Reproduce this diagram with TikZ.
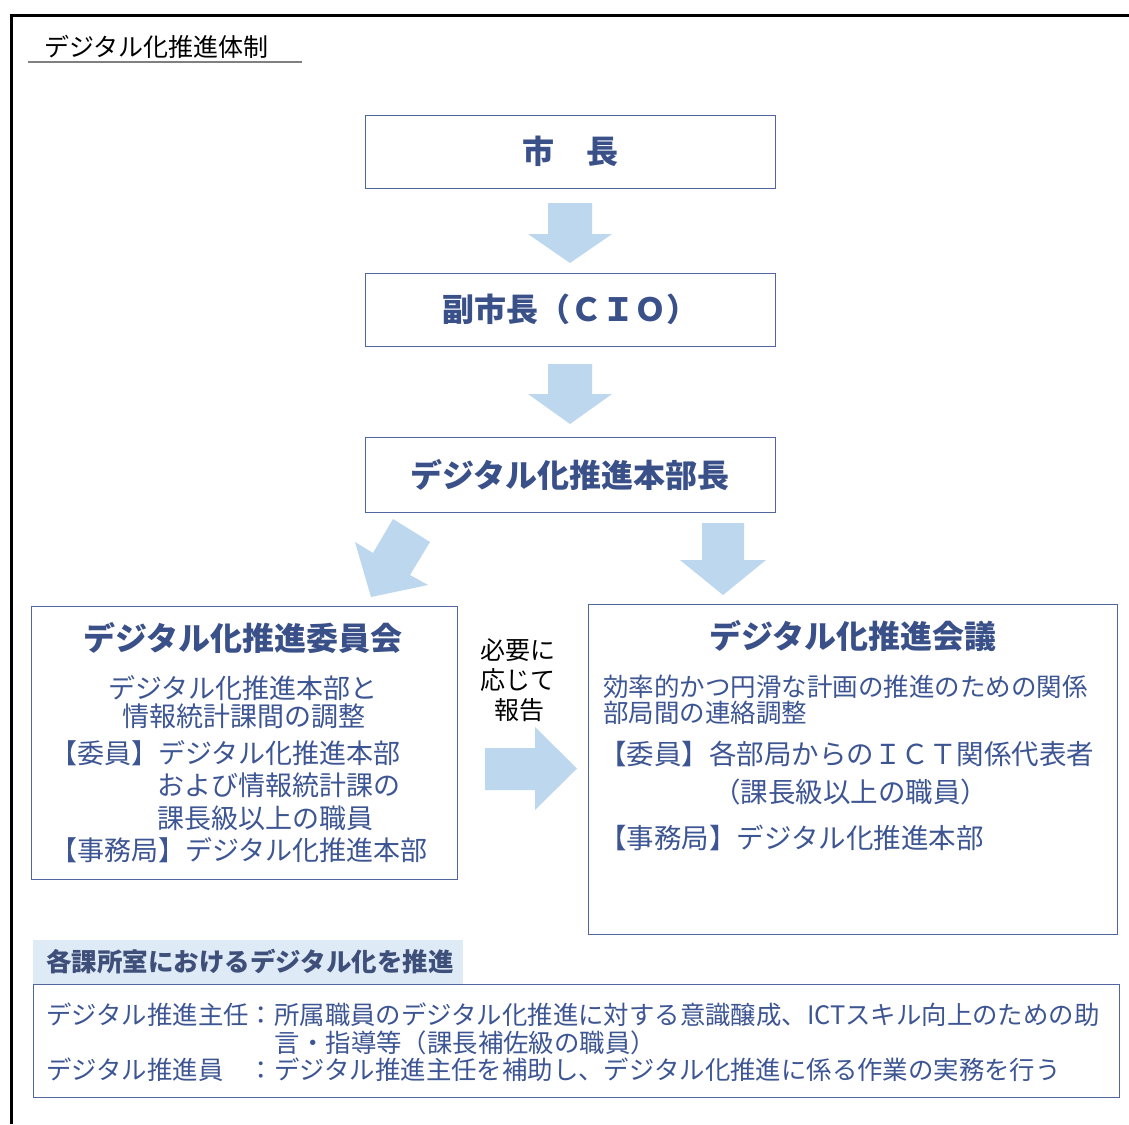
\documentclass[tikz,border=0pt]{standalone}
\usepackage{fontspec}
\setmainfont{Noto Sans CJK JP}
\definecolor{txt}{HTML}{3D5693}
\definecolor{ttl}{HTML}{3A5089}
\definecolor{brd}{HTML}{51659F}
\definecolor{arr}{HTML}{BDD7EE}
\definecolor{lbl}{HTML}{DEEAF6}
\definecolor{lbltxt}{HTML}{3E4F7A}
\newcommand\setfs[1]{\fontsize{#1}{#1}\selectfont}
\tikzset{
  box/.style={draw=brd, line width=1pt, inner sep=0pt, fill=white},
  t/.style={inner sep=0pt, text=txt},
  btitle/.style={inner sep=0pt, text=ttl, font=\setfs{32pt}\bfseries},
  blockarrow/.style={fill=arr, draw=none},
}
\begin{document}
\begin{tikzpicture}[x=1pt, y=-1pt]
\useasboundingbox (0,0) rectangle (1129,1124);
\fill[white] (0,0) rectangle (1129,1124);
% outer frame
\draw[line width=3pt, black] (11.5,1124) -- (11.5,15.5) -- (1129,15.5);
% heading
\node[inner sep=0pt, anchor=west, font=\setfs{25pt}] (head) at (44,47) {デジタル化推進体制};
\draw[gray, line width=1.5pt] (28,62) -- (302,62);

% chain of boxes
\node[box, minimum width=410pt, minimum height=73pt] (mayor) at (570,151.5) {};
\node[btitle] (mayort) at (mayor.center) {市　長};
\node[box, minimum width=410pt, minimum height=73pt] (cio) at (570,309.5) {};
\node[btitle] (ciot) at (cio.center) {副市長（ＣＩＯ）};
\node[box, minimum width=410pt, minimum height=75pt] (hq) at (570,474.5) {};
\node[btitle] (hqt) at (hq.center) {デジタル化推進本部長};

% block arrows
\fill[blockarrow] (548,203) -- (592,203) -- (592,234) -- (612,234) -- (570,263) -- (528,234) -- (548,234) -- cycle;
\fill[blockarrow] (548,364) -- (592,364) -- (592,394) -- (612,394) -- (570,424) -- (528,394) -- (548,394) -- cycle;
\fill[blockarrow] (702,523) -- (744,523) -- (744,560) -- (766,560) -- (723,595) -- (680,560) -- (702,560) -- cycle;
\fill[blockarrow] (393,519) -- (430,542) -- (410,575) -- (428,585) -- (371,597) -- (355,542) -- (373,553) -- cycle;
\fill[blockarrow] (485,748) -- (535,748) -- (535,727) -- (577,768.5) -- (535,810) -- (535,790) -- (485,790) -- cycle;

% left box
\node[box, minimum width=426pt, minimum height=273pt] (comm) at (244,742.5) {};
\node[btitle] (commt) at (243,638) {デジタル化推進委員会};
\node[t, font=\setfs{27pt}] (c1) at (243,688) {デジタル化推進本部と};
\node[t, font=\setfs{27pt}] (c2) at (244,716) {情報統計課間の調整};
\node[t, font=\setfs{27pt}, anchor=west] (c3) at (50,753) {【委員】デジタル化推進本部};
\node[t, font=\setfs{27pt}, anchor=west] (c4) at (157,785) {および情報統計課の};
\node[t, font=\setfs{27pt}, anchor=west] (c5) at (157,818) {課長級以上の職員};
\node[t, font=\setfs{27pt}, anchor=west] (c6) at (50,850) {【事務局】デジタル化推進本部};

% middle text
\node[inner sep=0pt, font=\setfs{25pt}] (m1) at (518,650) {必要に};
\node[inner sep=0pt, font=\setfs{25pt}] (m2) at (518,680) {応じて};
\node[inner sep=0pt, font=\setfs{25pt}] (m3) at (519,710) {報告};

% right box
\node[box, minimum width=529pt, minimum height=330pt] (conf) at (852.5,769) {};
\node[btitle] (conft) at (853,636) {デジタル化推進会議};
\node[t, font=\setfs{25.5pt}, anchor=west] (r1) at (603,687) {効率的かつ円滑な計画の推進のための関係};
\node[t, font=\setfs{25.5pt}, anchor=west] (r2) at (603,713) {部局間の連絡調整};
\node[t, font=\setfs{27.5pt}, anchor=west] (r3) at (599,754) {【委員】各部局からのＩＣＴ関係代表者};
\node[t, font=\setfs{27.5pt}, anchor=west] (r4) at (713,792) {（課長級以上の職員）};
\node[t, font=\setfs{27.5pt}, anchor=west] (r5) at (599,838) {【事務局】デジタル化推進本部};

% bottom label and box
\node[fill=lbl, draw=none, inner sep=0pt, minimum width=430pt, minimum height=44pt] (lab) at (248,962) {};
\node[inner sep=0pt, anchor=west, text=lbltxt, font=\setfs{25.5pt}\bfseries] (labt) at (46,962) {各課所室におけるデジタル化を推進};
\node[box, minimum width=1086pt, minimum height=113pt] (bot) at (576,1040.5) {};
\node[t, font=\setfs{25.4pt}, anchor=west] (b1) at (46,1015) {デジタル推進主任：所属職員のデジタル化推進に対する意識醸成、ICTスキル向上のための助};
\node[t, font=\setfs{25.4pt}, anchor=west] (b2) at (274.6,1043) {言・指導等（課長補佐級の職員）};
\node[t, font=\setfs{25.4pt}, anchor=west] (b3) at (46,1070) {デジタル推進員　：デジタル推進主任を補助し、デジタル化推進に係る作業の実務を行う};
\end{tikzpicture}
\end{document}
